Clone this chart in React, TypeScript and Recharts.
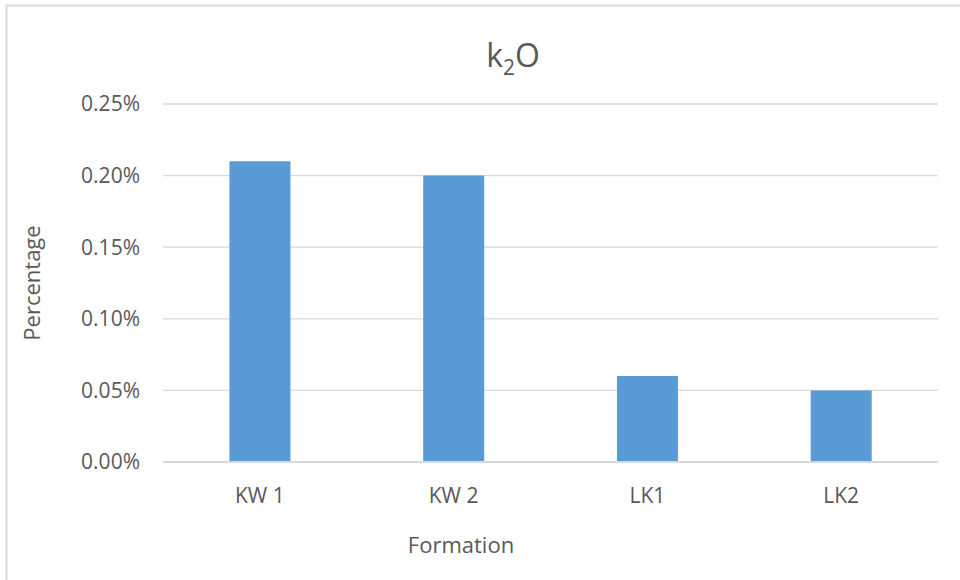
import React from "react";
import { BarChart, Bar, XAxis, YAxis, CartesianGrid } from "recharts";

// K2O content by formation (fraction, shown as percent)
const formations = ["KW 1", "KW 2", "LK1", "LK2"];
const k2oValues = [0.0021, 0.002, 0.0006, 0.0005];
const yTicks = [0, 0.0005, 0.001, 0.0015, 0.002, 0.0025];

const data = formations.map((name, i) => ({ name, value: k2oValues[i] }));

const FONT = "'Open Sans', 'Liberation Sans', sans-serif";
const TEXT = "#595959";
const GRID = "#D9D9D9";

const pct = (v: number) => `${(v * 100).toFixed(2)}%`;

const YTitle = (props: any) => {
  const vb = props.viewBox || {};
  const cx = 31;
  const cy = (vb.y ?? 0) + (vb.height ?? 0) / 2;
  return (
    <text
      x={cx}
      y={cy}
      transform={`rotate(-90 ${cx} ${cy})`}
      textAnchor="middle"
      dominantBaseline="central"
      fill={TEXT}
      fontSize={22}
      fontFamily={FONT}
    >
      Percentage
    </text>
  );
};

const XTitle = () => (
  <text x={461} y={553} textAnchor="middle" fill={TEXT} fontSize={22} fontFamily={FONT}>
    Formation
  </text>
);

export default function App() {
  return (
    <div style={{ position: "absolute", left: 0, top: 0, width: 960, height: 580, background: "#fff", overflow: "hidden" }}>
      <BarChart
        width={960}
        height={580}
        data={data}
        margin={{ top: 104, right: 22, bottom: 0, left: 0 }}
        barCategoryGap="34.3%"
      >
        <CartesianGrid vertical={false} stroke={GRID} strokeWidth={1.3} />
        <XAxis
          dataKey="name"
          height={118}
          axisLine={{ stroke: GRID, strokeWidth: 2 }}
          tickLine={false}
          tickSize={0}
          tickMargin={26}
          tick={{ fill: TEXT, fontSize: 21, fontFamily: FONT }}
          label={<XTitle />}
        />
        <YAxis
          width={163}
          domain={[0, 0.0025]}
          ticks={yTicks}
          tickFormatter={pct}
          axisLine={false}
          tickLine={false}
          tickSize={0}
          tickMargin={23}
          tick={{ fill: TEXT, fontSize: 21, fontFamily: FONT }}
          label={<YTitle />}
        />
        <Bar dataKey="value" fill="#5B9BD5" isAnimationActive={false} />
      </BarChart>
      <svg
        width={960}
        height={580}
        style={{ position: "absolute", left: 0, top: 0, pointerEvents: "none" }}
      >
        <rect x={6.5} y={5.5} width={1000} height={1000} fill="none" stroke={GRID} strokeWidth={2} />
        <text x={513} y={67} textAnchor="middle" fill={TEXT} fontSize={32} fontFamily={FONT}>
          <tspan>k</tspan>
          <tspan fontSize={21} dy={8}>2</tspan>
          <tspan dy={-8}>O</tspan>
        </text>
      </svg>
    </div>
  );
}
